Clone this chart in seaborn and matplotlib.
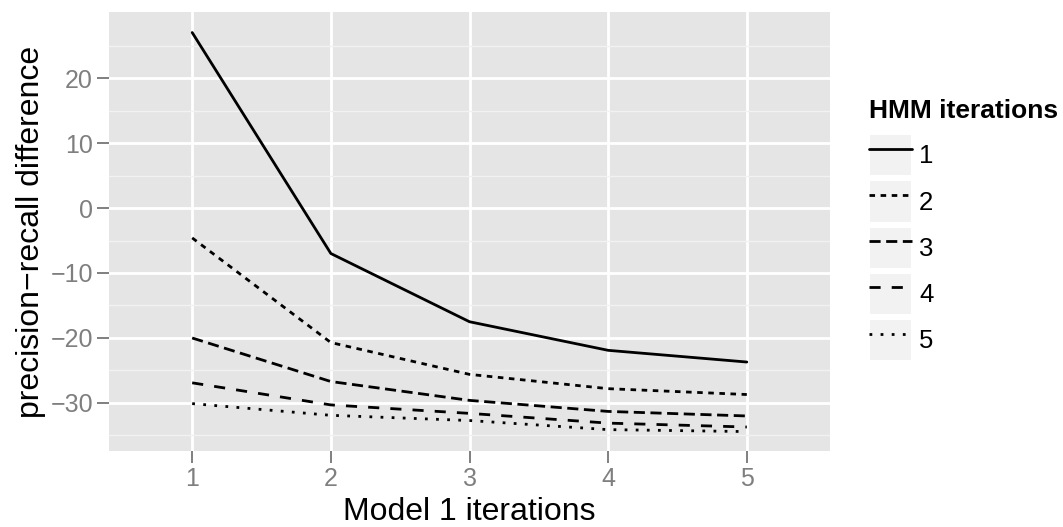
import pandas as pd
import seaborn as sns
import matplotlib.pyplot as plt
from matplotlib.patches import Rectangle

# values
model1_iterations = [1, 2, 3, 4, 5]
hmm_levels = ['1', '2', '3', '4', '5']
hmm_1 = [27.0, -7.0, -17.5, -21.9, -23.7]
hmm_2 = [-4.6, -20.7, -25.6, -27.8, -28.7]
hmm_3 = [-20.0, -26.7, -29.6, -31.3, -32.0]
hmm_4 = [-26.9, -30.3, -31.6, -33.1, -33.7]
hmm_5 = [-30.1, -31.9, -32.7, -34.1, -34.4]
y_breaks = [-30, -20, -10, 0, 10, 20]
y_minor_breaks = [-35, -25, -15, -5, 5, 15, 25]

# ggplot linetypes: solid, 22, 42, 44, 13
dash_styles = ['', (2, 2), (4, 2), (4, 4), (1, 3)]


def plot_data():
    rows = []
    for level, vals in zip(hmm_levels, [hmm_1, hmm_2, hmm_3, hmm_4, hmm_5]):
        for x, v in zip(model1_iterations, vals):
            rows.append({'model1': x, 'diff': v, 'hmm': level})
    df = pd.DataFrame(rows)

    sns.set_theme(style='darkgrid', rc={
        'axes.facecolor': '#E5E5E5',
        'grid.color': 'white',
        'grid.linewidth': 2.0,
        'text.color': 'black',
    })
    plt.rcParams['font.family'] = ['Liberation Sans', 'DejaVu Sans']

    fig = plt.figure(figsize=(10.63, 5.27), dpi=100)
    ax = fig.add_axes([109 / 1063, 1 - 451 / 527, (830 - 109) / 1063, (451 - 12) / 527])

    sns.lineplot(data=df, x='model1', y='diff', style='hmm', style_order=hmm_levels,
                 dashes=dash_styles, color='black', linewidth=2.0,
                 estimator=None, sort=False, legend=False, ax=ax)

    ax.set_xlim(0.4, 5.6)
    ax.set_ylim(-37.39, 30.16)
    ax.set_xticks(model1_iterations)
    ax.set_xticklabels([str(v) for v in model1_iterations])
    ax.set_yticks(y_breaks)
    ax.set_yticks(y_minor_breaks, minor=True)
    ax.grid(which='major', color='white', linewidth=2.0)
    ax.grid(which='minor', axis='y', color='#F2F2F2', linewidth=1.0)
    ax.grid(which='minor', axis='x', visible=False)
    for s in ax.spines.values():
        s.set_visible(False)

    ax.tick_params(which='major', length=8.5, width=1.4, color='#7F7F7F',
                   labelsize=18, labelcolor='#7F7F7F', pad=3,
                   bottom=True, left=True)
    ax.tick_params(which='minor', length=0)

    ax.set_xlabel('Model 1 iterations', fontsize=23, color='black', labelpad=4)
    ax.set_ylabel('precision\u2212recall difference', fontsize=23, color='black', labelpad=3)

    # legend keys: grey box with the line drawn on top
    handles = []
    for line in ax.lines[:len(hmm_levels)]:
        box = Rectangle((0, 0), 1, 1, facecolor='#F2F2F2', edgecolor='white', linewidth=1.5)
        handles.append((box, line))
    leg = fig.legend(handles, hmm_levels, title='HMM iterations',
                     loc='upper left', bbox_to_anchor=(869 / 1063, 1 - 99 / 527),
                     frameon=False, fontsize=18.5, borderpad=0, borderaxespad=0,
                     handlelength=1.68, handleheight=2.16, labelspacing=0.15,
                     handletextpad=0.27, alignment='left')
    leg.get_title().set_fontweight('bold')
    leg.get_title().set_fontsize(19)
    leg.get_title().set_color('black')
    for t in leg.get_texts():
        t.set_color('black')
    leg._legend_box.sep = 8

    fig.savefig('out.png', dpi=100)
    plt.close(fig)


if __name__ == "__main__":
    plot_data()
